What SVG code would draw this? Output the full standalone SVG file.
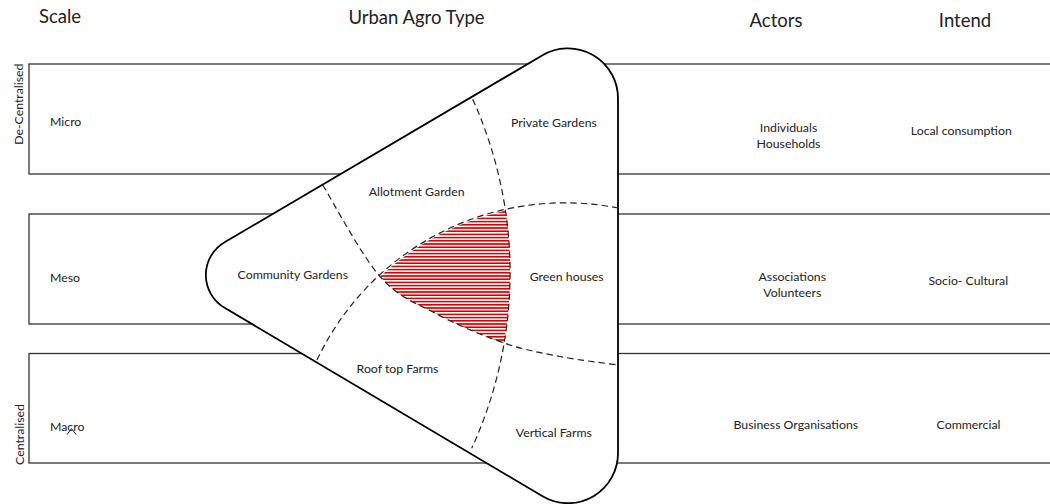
<svg xmlns="http://www.w3.org/2000/svg" width="1050" height="504" viewBox="0 0 1050 504">
<defs>
<style>
.row{fill:none;stroke:#333;stroke-width:1.3}
.t{font-family:Lato,"Open Sans","Liberation Sans",sans-serif;font-size:12.3px;fill:#222}
.h{font-family:Lato,"Open Sans","Liberation Sans",sans-serif;font-size:18.5px;fill:#222}
.mid{text-anchor:middle}
.dash{fill:none;stroke:#222;stroke-width:1.2;stroke-dasharray:6.5 4}
.tri{fill:#fff;stroke:#000;stroke-width:1.8;stroke-linejoin:round}
</style>
<pattern id="hatch" width="6" height="3.2" patternUnits="userSpaceOnUse">
<rect width="6" height="1.6" fill="#e00000"/>
</pattern>
</defs>
<rect width="1050" height="504" fill="#fff"/>

<g id="headers">
<text class="h" x="39" y="23.3">Scale</text>
<text class="h mid" x="416.5" y="23.5">Urban Agro Type</text>
<text class="h mid" x="776" y="26.5">Actors</text>
<text class="h mid" x="965" y="27">Intend</text>
</g>

<g id="row-micro">
<rect class="row" x="29" y="64" width="1030" height="110"/>
<text class="t" x="50" y="125.7">Micro</text>
<text class="t mid" x="788.5" y="131.7">Individuals</text>
<text class="t mid" x="788.5" y="148.3">Households</text>
<text class="t mid" x="961.3" y="134.5">Local consumption</text>
</g>

<g id="row-meso">
<rect class="row" x="29" y="214" width="1030" height="110"/>
<text class="t" x="50" y="281.7">Meso</text>
<text class="t mid" x="792.3" y="280.7">Associations</text>
<text class="t mid" x="792.3" y="296.7">Volunteers</text>
<text class="t mid" x="968.3" y="285">Socio- Cultural</text>
</g>

<g id="row-macro">
<rect class="row" x="29" y="353.5" width="1030" height="109.5"/>
<text class="t" x="50" y="430.7">Macro</text>
<polyline points="67,434.5 71.5,428.5 76,434.5" fill="none" stroke="#222" stroke-width="1"/>
<text class="t mid" x="795.8" y="429">Business Organisations</text>
<text class="t mid" x="968.5" y="429">Commercial</text>
</g>

<g id="axis-labels">
<text class="t mid" transform="translate(23.3,104.2) rotate(-90)">De-Centralised</text>
<text class="t mid" transform="translate(23.5,434.5) rotate(-90)">Centralised</text>
</g>

<g id="urban-agro-triangle">
<path class="tri" d="M225,242 L543,55 A50,50 0 0 1 618,98 L618,452 A50,50 0 0 1 543,496.5 L225,308 A38,38 0 0 1 225,242 Z"/>
<path id="overlap" d="M380,276.5 A274,274 0 0 1 505.8,210.5 A421,421 0 0 1 504,343 C483.45,335.9 457.4,325.1 436.7,314 C416,302.9 399,298 380,276.5 Z" fill="url(#hatch)"/>
</g>

<g id="dividers">
<path class="dash" d="M322.7,185 C332.25,200.25 361,255 380,276.5 C399,298 416,302.9 436.7,314 C457.4,325.1 483.45,335.9 504,343 C524.55,350.1 541,352.8 560,356.5 C579,360.2 608.3,363.6 618,365"/>
<path class="dash" d="M317,360 A274,274 0 0 1 618,208"/>
<path class="dash" d="M472.7,99.3 A421,421 0 0 1 471.7,448.3"/>
</g>

<g id="segment-labels">
<text class="t mid" x="554" y="127">Private Gardens</text>
<text class="t mid" x="416.7" y="195.7">Allotment Garden</text>
<text class="t mid" x="292.8" y="278.5">Community Gardens</text>
<text class="t mid" x="566.7" y="280.5">Green houses</text>
<text class="t mid" x="397.5" y="373">Roof top Farms</text>
<text class="t mid" x="553.8" y="437.3">Vertical Farms</text>
</g>
</svg>
